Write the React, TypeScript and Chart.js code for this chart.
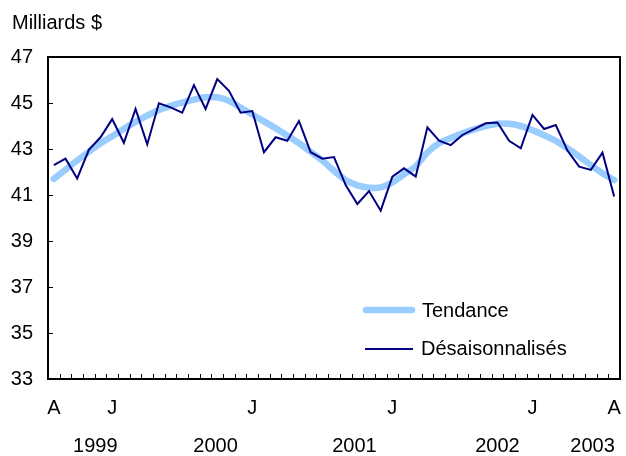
import React, { useEffect, useRef } from 'react';
import { Chart, registerables } from 'chart.js';

Chart.register(...registerables);

// Month tick labels (one per monthly point, only some shown)
const categories: string[] = [
  'A', '', '', '', '', 'J', '', '', '', '', '', '',
  '', '', '', '', '', 'J', '', '', '', '', '', '',
  '', '', '', '', '', 'J', '', '', '', '', '', '',
  '', '', '', '', '', 'J', '', '', '', '', '', '',
  'A',
];

// Seasonally adjusted series (billions $)
const seasonallyAdjusted: number[] = [
  42.30, 42.58, 41.72, 42.96, 43.51, 44.30, 43.27, 44.74, 43.20, 44.99, 44.81, 44.58,
  45.78, 44.74, 46.04, 45.53, 44.58, 44.65, 42.86, 43.51, 43.36, 44.22, 42.86, 42.58,
  42.65, 41.43, 40.61, 41.17, 40.32, 41.80, 42.16, 41.80, 43.94, 43.36, 43.17, 43.61,
  43.86, 44.12, 44.15, 43.36, 43.03, 44.48, 43.87, 44.04, 42.93, 42.23, 42.09, 42.84,
  40.93,
];

// Trend series
const trend: number[] = [
  41.70, 42.10, 42.50, 42.88, 43.25, 43.55, 43.88, 44.18, 44.45, 44.70, 44.88, 45.02,
  45.15, 45.25, 45.25, 45.10, 44.80, 44.50, 44.20, 43.90, 43.58, 43.25, 42.88, 42.50,
  42.05, 41.65, 41.42, 41.32, 41.33, 41.55, 41.90, 42.25, 42.85, 43.25, 43.48, 43.68,
  43.85, 44.00, 44.10, 44.10, 44.00, 43.82, 43.60, 43.35, 43.03, 42.68, 42.30, 41.95,
  41.65,
];

// Year labels and their positions (in category index units)
const yearLabels: string[] = ['1999', '2000', '2001', '2002', '2003'];
const yearPositions: number[] = [3.55, 13.85, 25.75, 38.0, 46.15];

const yTicks: number[] = [33, 35, 37, 39, 41, 43, 45, 47];

const seriesNames = ['Tendance', 'Désaisonnalisés'];
const unitLabel = 'Milliards $';

const FONT = 'Arial, "Liberation Sans", sans-serif';
const TREND_COLOR = '#99CCFF';
const SA_COLOR = '#000080';

const zeroPad = (s: any) => {
  s.paddingLeft = 0;
  s.paddingRight = 0;
  s.paddingTop = 0;
  s.paddingBottom = 0;
};

const decorPlugin = {
  id: 'decor',
  afterDatasetsDraw(chart: any) {
    const ctx = chart.ctx as CanvasRenderingContext2D;
    const { left, right, top, bottom } = chart.chartArea;
    const xs = chart.scales.x;
    const ys = chart.scales.y;
    ctx.save();
    // inward tick marks
    ctx.strokeStyle = '#000';
    ctx.lineWidth = 1;
    ctx.beginPath();
    for (let i = 0; i < categories.length - 1; i++) {
      const px = Math.round(xs.getPixelForValue(i + 0.5)) + 0.5;
      ctx.moveTo(px, bottom);
      ctx.lineTo(px, bottom - 5);
    }
    for (const v of yTicks) {
      const py = Math.round(ys.getPixelForValue(v)) + 0.5;
      ctx.moveTo(left, py);
      ctx.lineTo(left + 5, py);
    }
    ctx.stroke();
    // frame
    ctx.lineWidth = 2;
    ctx.strokeRect(left, top, right - left, bottom - top);

    // unit label
    ctx.fillStyle = '#000';
    ctx.font = `20px ${FONT}`;
    ctx.textAlign = 'left';
    ctx.textBaseline = 'middle';
    ctx.fillText(unitLabel, 12, 23);

    // legend
    ctx.lineCap = 'round';
    ctx.strokeStyle = TREND_COLOR;
    ctx.lineWidth = 6.5;
    ctx.beginPath();
    ctx.moveTo(366, 310);
    ctx.lineTo(412, 310);
    ctx.stroke();
    ctx.lineCap = 'butt';
    ctx.strokeStyle = SA_COLOR;
    ctx.lineWidth = 2;
    ctx.beginPath();
    ctx.moveTo(365, 349);
    ctx.lineTo(413, 349);
    ctx.stroke();
    ctx.fillText(seriesNames[0], 422, 311);
    ctx.fillText(seriesNames[1], 421, 349);
    ctx.restore();
  },
};

export default function App() {
  const ref = useRef<HTMLCanvasElement>(null);
  useEffect(() => {
    document.body.style.margin = '0';
    if (!ref.current) return;
    Chart.defaults.font.family = FONT;
    Chart.defaults.font.size = 20;
    Chart.defaults.color = '#000';
    const chart = new Chart(ref.current, {
      type: 'line',
      data: {
        labels: categories,
        datasets: [
          {
            label: seriesNames[1],
            data: seasonallyAdjusted,
            borderColor: SA_COLOR,
            backgroundColor: SA_COLOR,
            borderWidth: 2,
            pointRadius: 0,
            tension: 0,
            order: 0,
          },
          {
            label: seriesNames[0],
            data: trend,
            borderColor: TREND_COLOR,
            backgroundColor: TREND_COLOR,
            borderWidth: 6.5,
            pointRadius: 0,
            tension: 0.4,
            borderCapStyle: 'round',
            order: 1,
          },
        ],
      },
      options: {
        responsive: false,
        animation: false,
        events: [],
        layout: { padding: { top: 57, right: 6, left: 0, bottom: 0 } },
        plugins: {
          legend: { display: false },
          tooltip: { enabled: false },
          title: { display: false },
        },
        scales: {
          x: {
            type: 'category',
            offset: true,
            weight: 0,
            grid: { display: false, drawTicks: false },
            border: { display: false },
            ticks: {
              autoSkip: false,
              maxRotation: 0,
              minRotation: 0,
              padding: 17,
              font: { size: 20 },
            },
            afterFit: (s: any) => {
              s.height = 46;
              zeroPad(s);
            },
          },
          xYear: {
            type: 'linear',
            position: 'bottom',
            min: -0.5,
            max: categories.length - 0.5,
            weight: 1,
            grid: { display: false, drawTicks: false },
            border: { display: false },
            afterBuildTicks: (s: any) => {
              s.ticks = yearPositions.map((v) => ({ value: v }));
            },
            ticks: {
              autoSkip: false,
              maxRotation: 0,
              minRotation: 0,
              padding: 9,
              font: { size: 20 },
              callback: (_v: any, i: number) => yearLabels[i],
            },
            afterFit: (s: any) => {
              s.height = 31;
              zeroPad(s);
            },
          },
          y: {
            min: 33,
            max: 47,
            grid: { display: false, drawTicks: false },
            border: { display: false },
            afterBuildTicks: (s: any) => {
              s.ticks = yTicks.map((v) => ({ value: v }));
            },
            ticks: {
              padding: 15,
              font: { size: 20 },
              callback: (v: any) => String(v),
            },
            afterFit: (s: any) => {
              s.width = 48;
              zeroPad(s);
            },
          },
        },
      },
      plugins: [decorPlugin],
    } as any);
    return () => chart.destroy();
  }, []);
  return (
    <div style={{ position: 'absolute', left: 0, top: 0, width: 626, height: 456 }}>
      <canvas ref={ref} width={626} height={456} style={{ display: 'block' }} />
    </div>
  );
}
